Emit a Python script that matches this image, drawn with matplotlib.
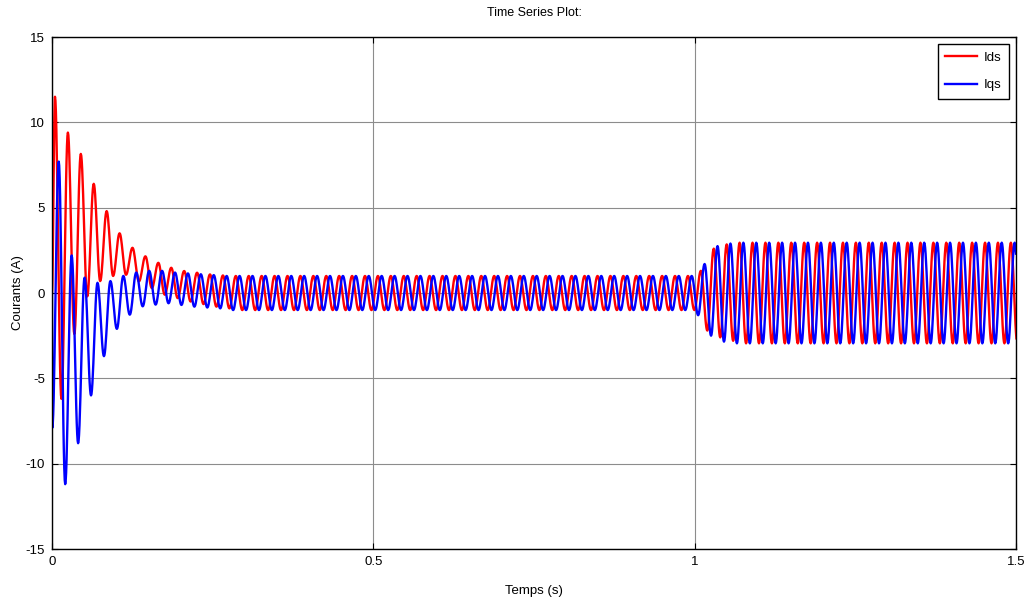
import numpy as np
import matplotlib.pyplot as plt

plt.rcParams['font.family'] = ['Liberation Sans', 'DejaVu Sans']
plt.rcParams['axes.unicode_minus'] = False

# carrier period (s) and step time of the load change
period = 0.0201
t_step = 1.0
t_end = 1.5

# Ids: successive extrema (alternating peak / trough), first one a peak
ids_t0 = 0.0047
ids_transient = [11.5, -6.2, 9.4, -2.4, 8.15, -0.2, 6.4, 0.7, 4.8, 1.0,
                 3.5, 1.07, 2.65, 0.68, 2.15, 0.29, 1.77, -0.1, 1.48, -0.3,
                 1.29, -0.5, 1.19, -0.65, 1.09, -0.8, 1.03, -0.9]
ids_after_step = [1.3, -2.2, 2.6, -2.6, 2.85, -2.8]

# Iqs: successive extrema, first one a trough
iqs_t0 = 0.0005
iqs_transient = [-7.9, 7.7, -11.2, 2.2, -8.8, 0.9, -6.0, 0.6, -3.7, 0.7,
                 -2.1, 1.0, -1.27, 1.2, -0.78, 1.3, -0.68, 1.3, -0.6, 1.2,
                 -0.7, 1.15, -0.8, 1.1, -0.85, 1.05, -0.9]
iqs_after_step = [-1.3, 1.7, -2.5, 2.75, -2.85, 2.9]

# steady-state amplitudes before / after the step
amp_before = 1.0
amp_after = 2.95

xticks = [0, 0.5, 1, 1.5]
xticklabels = ['0', '0.5', '1', '1.5']
yticks = [-15, -10, -5, 0, 5, 10, 15]


def extrema(t0, transient, after_step, first_sign):
    """list the (time, value) turning points of one current"""
    ts, vs = [0.0], [0.0]
    n_step = int(np.ceil((t_step - t0) / (period / 2)))
    n = 0
    while True:
        t = t0 + n * period / 2
        sign = first_sign if n % 2 == 0 else -first_sign
        if n < len(transient):
            v = transient[n]
        elif n < n_step:
            v = sign * amp_before
        elif n - n_step < len(after_step):
            v = after_step[n - n_step]
        else:
            v = sign * amp_after
        ts.append(t)
        vs.append(v)
        if t > t_end:
            break
        n += 1
    return ts, vs


def waveform(ts, vs, pts=14):
    # half-cosine between successive turning points
    out_t, out_v = [], []
    for i in range(len(ts) - 1):
        s = np.linspace(0, 1, pts, endpoint=False)
        out_t.append(ts[i] + (ts[i + 1] - ts[i]) * s)
        out_v.append(vs[i] + (vs[i + 1] - vs[i]) * (1 - np.cos(np.pi * s)) / 2)
    out_t.append([ts[-1]])
    out_v.append([vs[-1]])
    return np.concatenate(out_t), np.concatenate(out_v)


ids_t, ids_v = waveform(*extrema(ids_t0, ids_transient, ids_after_step, 1))
iqs_t, iqs_v = waveform(*extrema(iqs_t0, iqs_transient, iqs_after_step, -1))

fig = plt.figure(figsize=(10.35, 6.01), dpi=100)
ax = fig.add_axes([0.0502, 0.0865, 0.9314, 0.8519])

ax.plot(ids_t, ids_v, color='#ff0000', lw=1.7, label='Ids')
ax.plot(iqs_t, iqs_v, color='#0000ff', lw=1.7, label='Iqs')

ax.set_xlim(0, t_end)
ax.set_ylim(-15, 15)
ax.set_xticks(xticks)
ax.set_xticklabels(xticklabels)
ax.set_yticks(yticks)
ax.grid(True, color='#8c8c8c', lw=0.8)
ax.set_axisbelow(True)
ax.tick_params(direction='in', length=4, top=True, right=True,
               labelsize=9.5, pad=5)
for sp in ax.spines.values():
    sp.set_linewidth(1.0)

ax.set_title('Time Series Plot:', fontsize=9, pad=15)
ax.set_xlabel('Temps (s)', fontsize=9.5, labelpad=12)
ax.set_ylabel('Courants (A)', fontsize=9.5, labelpad=1)

leg = ax.legend(loc='upper right', fontsize=9.5, fancybox=False,
                edgecolor='black', framealpha=1, handlelength=2.4,
                borderaxespad=0.5, labelspacing=1.15, handletextpad=0.5,
                borderpad=0.6)
leg.get_frame().set_linewidth(1.0)

fig.savefig('out.png', dpi=100)
